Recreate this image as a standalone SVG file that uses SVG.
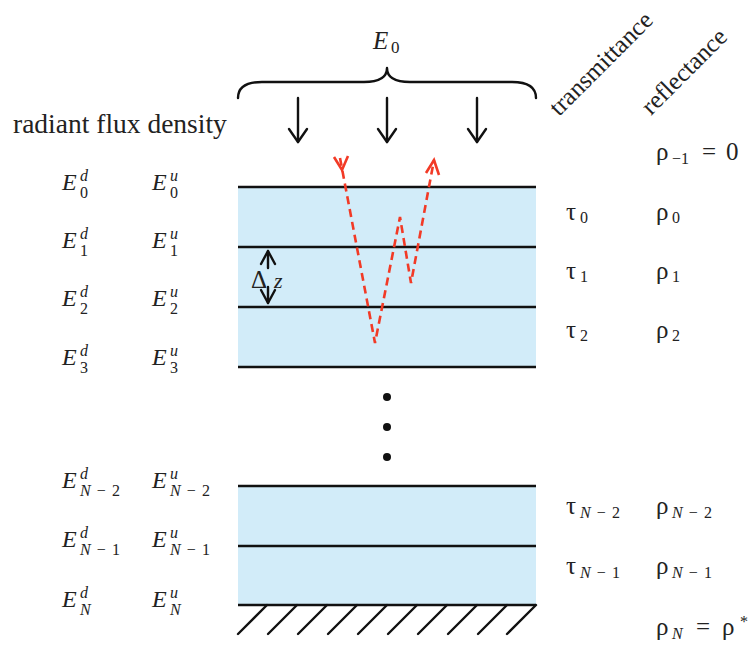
<svg xmlns="http://www.w3.org/2000/svg" width="748" height="650" viewBox="0 0 748 650">
<defs>
<style>
.t{font-family:"Liberation Serif","Times New Roman",serif;fill:#222}
.i{font-style:italic}
.big{font-size:24px}
.sm{font-size:16px}
.gr{font-size:25px}
.layer{stroke:#111;stroke-width:2.6;fill:none}
.blk{stroke:#111;stroke-width:2.4;fill:none;stroke-linecap:round;stroke-linejoin:round}
.ray{stroke:#F23A26;stroke-width:2.6;fill:none;stroke-dasharray:8 5}
.rayhead{stroke:#F23A26;stroke-width:2.6;fill:none;stroke-linecap:butt}
</style>
</defs>
<rect width="748" height="650" fill="#fff"/>

<g id="slab-top">
<rect x="238" y="187" width="298" height="180" fill="#D2ECF9"/>
<line class="layer" x1="238" y1="187" x2="536" y2="187"/>
<line class="layer" x1="238" y1="247" x2="536" y2="247"/>
<line class="layer" x1="238" y1="307" x2="536" y2="307"/>
<line class="layer" x1="238" y1="367" x2="536" y2="367"/>
</g>

<g id="slab-bottom">
<rect x="238" y="486" width="298" height="119" fill="#D2ECF9"/>
<line class="layer" x1="238" y1="486" x2="536" y2="486"/>
<line class="layer" x1="238" y1="546" x2="536" y2="546"/>
<line class="layer" x1="238" y1="605" x2="536" y2="605"/>
<g class="blk">
<line x1="238" y1="634" x2="267" y2="605"/>
<line x1="268" y1="634" x2="297" y2="605"/>
<line x1="298" y1="634" x2="327" y2="605"/>
<line x1="328" y1="634" x2="357" y2="605"/>
<line x1="358" y1="634" x2="387" y2="605"/>
<line x1="388" y1="634" x2="417" y2="605"/>
<line x1="418" y1="634" x2="447" y2="605"/>
<line x1="448" y1="634" x2="477" y2="605"/>
<line x1="478" y1="634" x2="507" y2="605"/>
<line x1="507" y1="634" x2="536" y2="605"/>
</g>
</g>

<g id="dots" fill="#111">
<circle cx="387" cy="397" r="4"/>
<circle cx="387" cy="427" r="4"/>
<circle cx="387" cy="457" r="4"/>
</g>

<g id="incident">
<path class="blk" d="M238,98 Q238,82 262,82 L364,82 Q387,82 387,68 Q387,82 410,82 L512,82 Q536,82 536,98"/>
<text class="t i" x="373" y="49" font-size="25">E</text>
<text class="t" x="391" y="53" font-size="17">0</text>
</g>

<g id="connectors">
<g class="blk">
<line x1="298" y1="98" x2="298" y2="142"/>
<polyline points="289,129 298,142 307,129"/>
<line x1="387" y1="98" x2="387" y2="142"/>
<polyline points="378,129 387,142 396,129"/>
<line x1="477" y1="98" x2="477" y2="142"/>
<polyline points="468,129 477,142 486,129"/>
</g>
<g id="delta-z">
<g class="blk">
<line x1="268" y1="251" x2="268" y2="268"/>
<polyline points="261,264 268,251 275,264"/>
<line x1="268" y1="287" x2="268" y2="303"/>
<polyline points="261,290 268,303 275,290"/>
</g>
<text class="t" x="251" y="288" font-size="25">Δ</text>
<text class="t i" x="274" y="288" font-size="22">z</text>
</g>
<g id="ray">
<polyline class="ray" points="340,158 375,343 400,217 411,283 434,160"/>
<polyline class="rayhead" points="334,157 342,170 348,156"/>
<polyline class="rayhead" points="426,173 434,160 439,175"/>
</g>
</g>

<g id="header-left">
<text class="t" x="13" y="133" font-size="27.5">radiant flux density</text>
</g>
<g id="header-trans">
<text class="t" x="0" y="0" font-size="25" transform="translate(559,117) rotate(-45)">transmittance</text>
</g>
<g id="header-refl">
<text class="t" x="0" y="0" font-size="25" transform="translate(651,116) rotate(-45)">reflectance</text>
</g>

<g id="Ed0"><text class="t i big" x="62" y="190">E</text><text class="t i sm" x="80" y="181">d</text><text class="t sm" x="80" y="198">0</text></g>
<g id="Eu0"><text class="t i big" x="152" y="190">E</text><text class="t i sm" x="170" y="181">u</text><text class="t sm" x="170" y="198">0</text></g>
<g id="Ed1"><text class="t i big" x="62" y="248">E</text><text class="t i sm" x="80" y="239">d</text><text class="t sm" x="80" y="256">1</text></g>
<g id="Eu1"><text class="t i big" x="152" y="248">E</text><text class="t i sm" x="170" y="239">u</text><text class="t sm" x="170" y="256">1</text></g>
<g id="Ed2"><text class="t i big" x="62" y="306">E</text><text class="t i sm" x="80" y="297">d</text><text class="t sm" x="80" y="314">2</text></g>
<g id="Eu2"><text class="t i big" x="152" y="306">E</text><text class="t i sm" x="170" y="297">u</text><text class="t sm" x="170" y="314">2</text></g>
<g id="Ed3"><text class="t i big" x="62" y="365">E</text><text class="t i sm" x="80" y="356">d</text><text class="t sm" x="80" y="373">3</text></g>
<g id="Eu3"><text class="t i big" x="152" y="365">E</text><text class="t i sm" x="170" y="356">u</text><text class="t sm" x="170" y="373">3</text></g>

<g id="EdN2"><text class="t i big" x="62" y="488">E</text><text class="t i sm" x="80" y="479">d</text><text class="t sm" x="80" y="496" textLength="40" lengthAdjust="spacing"><tspan class="i">N</tspan>−2</text></g>
<g id="EuN2"><text class="t i big" x="152" y="488">E</text><text class="t i sm" x="170" y="479">u</text><text class="t sm" x="170" y="496" textLength="40" lengthAdjust="spacing"><tspan class="i">N</tspan>−2</text></g>
<g id="EdN1"><text class="t i big" x="62" y="547">E</text><text class="t i sm" x="80" y="538">d</text><text class="t sm" x="80" y="555" textLength="40" lengthAdjust="spacing"><tspan class="i">N</tspan>−1</text></g>
<g id="EuN1"><text class="t i big" x="152" y="547">E</text><text class="t i sm" x="170" y="538">u</text><text class="t sm" x="170" y="555" textLength="40" lengthAdjust="spacing"><tspan class="i">N</tspan>−1</text></g>
<g id="EdN"><text class="t i big" x="62" y="607">E</text><text class="t i sm" x="80" y="598">d</text><text class="t i sm" x="80" y="615">N</text></g>
<g id="EuN"><text class="t i big" x="152" y="607">E</text><text class="t i sm" x="170" y="598">u</text><text class="t i sm" x="170" y="615">N</text></g>

<g id="rho-1"><text class="t gr" x="656" y="160">ρ</text><text class="t sm" x="672" y="164">−1</text><text class="t gr" x="702" y="160">=</text><text class="t gr" x="726" y="160">0</text></g>
<g id="tau0"><text class="t gr" x="566" y="220">τ</text><text class="t sm" x="580" y="223">0</text></g>
<g id="rho0"><text class="t gr" x="656" y="220">ρ</text><text class="t sm" x="672" y="223">0</text></g>
<g id="tau1"><text class="t gr" x="566" y="279">τ</text><text class="t sm" x="580" y="282">1</text></g>
<g id="rho1"><text class="t gr" x="656" y="279">ρ</text><text class="t sm" x="672" y="282">1</text></g>
<g id="tau2"><text class="t gr" x="566" y="338">τ</text><text class="t sm" x="580" y="341">2</text></g>
<g id="rho2"><text class="t gr" x="656" y="338">ρ</text><text class="t sm" x="672" y="341">2</text></g>
<g id="tauN2"><text class="t gr" x="566" y="514">τ</text><text class="t sm" x="580" y="518" textLength="40" lengthAdjust="spacing"><tspan class="i">N</tspan>−2</text></g>
<g id="rhoN2"><text class="t gr" x="656" y="514">ρ</text><text class="t sm" x="672" y="518" textLength="40" lengthAdjust="spacing"><tspan class="i">N</tspan>−2</text></g>
<g id="tauN1"><text class="t gr" x="566" y="574">τ</text><text class="t sm" x="580" y="578" textLength="40" lengthAdjust="spacing"><tspan class="i">N</tspan>−1</text></g>
<g id="rhoN1"><text class="t gr" x="656" y="574">ρ</text><text class="t sm" x="672" y="578" textLength="40" lengthAdjust="spacing"><tspan class="i">N</tspan>−1</text></g>
<g id="rhoN"><text class="t gr" x="656" y="635">ρ</text><text class="t i sm" x="672" y="639">N</text><text class="t gr" x="696" y="635">=</text><text class="t gr" x="722" y="635">ρ</text><text class="t sm" x="740" y="627">*</text></g>
</svg>
